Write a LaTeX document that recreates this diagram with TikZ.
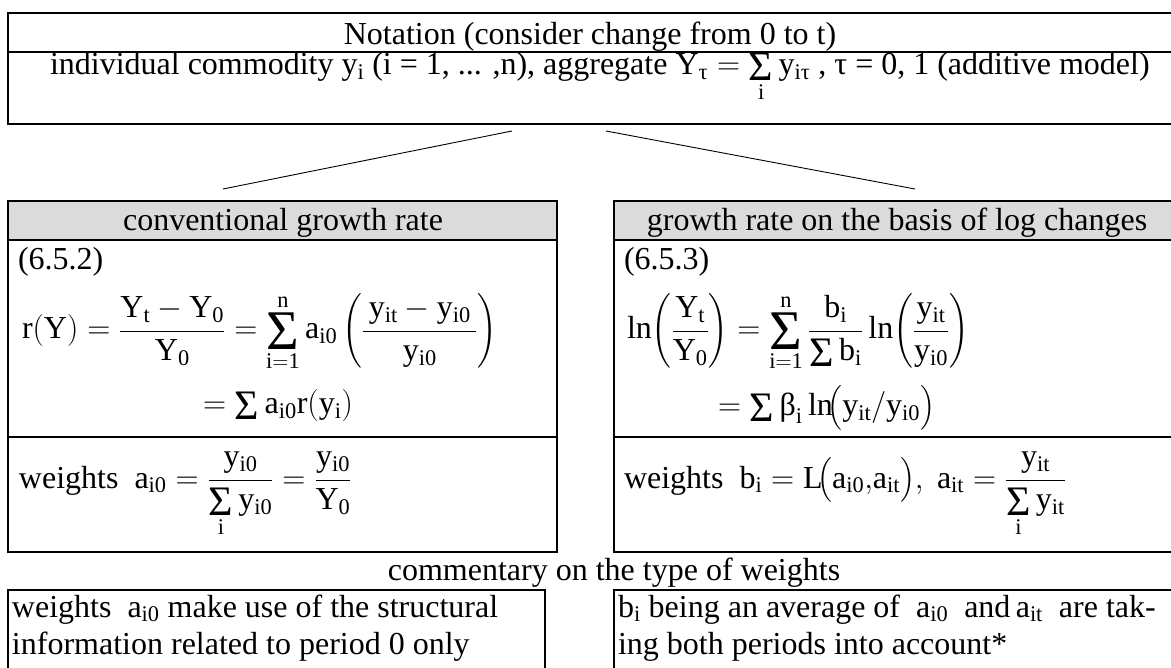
\documentclass[tikz,border=0pt]{standalone}
\usepackage{fix-cm}
\usepackage{amsmath}
\usepackage{fontspec}
\setmainfont{Liberation Serif}
\newcommand{\umr}[1]{\mathrm{#1}}
% Times-like summation signs
\newcommand{\sS}{\mathop{\vcenter{\hbox{\fontsize{42}{42}\selectfont Σ}}}}
\newcommand{\bS}{\mathop{\vcenter{\hbox{\fontsize{56}{56}\selectfont Σ}}}}
\begin{document}
\begin{tikzpicture}[x=1pt,y=-1pt,
  every node/.style={inner sep=0pt, outer sep=0pt, font=\fontsize{32}{37}\selectfont},
  frame/.style={draw=black, line width=2.2pt},
  divider/.style={draw=black, line width=2pt},
  hdrfill/.style={fill=black!14},
  conn/.style={draw=black, line width=0.9pt},
  txtl/.style={anchor=base west, align=left},
  txtc/.style={anchor=base}
]
\useasboundingbox (0,0) rectangle (1171,668);
\fill[white] (0,0) rectangle (1171,668);

% top notation box
\draw[frame] (8,13) rectangle (1185,124);
\draw[divider] (8,52) -- (1185,52);
\node[txtc] (notation) at (590,45) {Notation (consider change from 0 to t)};
\node[txtl] (indiv) at (50,75) {individual commodity y\textsubscript{i} (i = 1, ... ,n), aggregate $\umr{Y}_{\text{τ}} = \sS\limits_{\umr{i}} \umr{y}_{\umr{i}\text{τ}}$ , τ = 0, 1 (additive model)};

% connectors
\coordinate (cl1) at (512,131);
\coordinate (cl2) at (223,189);
\coordinate (cr1) at (606,131);
\coordinate (cr2) at (915,189);
\draw[conn] (cl1) -- (cl2);
\draw[conn] (cr1) -- (cr2);

% left column
\fill[hdrfill] (8,201) rectangle (557,240);
\draw[frame] (8,201) rectangle (557,552);
\draw[divider] (8,240) -- (557,240);
\draw[divider] (8,437) -- (557,437);
\node[txtc] (convhdr) at (283,231) {conventional growth rate};
\node[txtl] (eqa) at (18,270) {(6.5.2)};
\node[txtl] (fa1) at (22,339) {$\umr{r(Y)} = \dfrac{\umr{Y_t} - \umr{Y_0}}{\umr{Y_0}} = \bS\limits_{\umr{i=1}}^{\umr{n}} \umr{a_{i0}} \left( \dfrac{\,\umr{y_{it}} - \umr{y_{i0}}\,}{\umr{y_{i0}}} \right)$};
\node[txtl] (fa2) at (203,414) {$= \sS \umr{a_{i0}r(y_i)}$};
\node[txtl] (wa) at (19,488) {weights\ \ $\umr{a_{i0}} = \dfrac{\umr{y_{i0}}}{\sS\limits_{\umr{i}} \umr{y_{i0}}} = \dfrac{\umr{y_{i0}}}{\umr{Y_0}}$};

% right column
\fill[hdrfill] (614,201) rectangle (1185,240);
\draw[frame] (614,201) rectangle (1185,552);
\draw[divider] (614,240) -- (1185,240);
\draw[divider] (614,437) -- (1185,437);
\node[txtc] (loghdr) at (897,231) {growth rate on the basis of log changes};
\node[txtl] (eqb) at (624,270) {(6.5.3)};
\node[txtl] (fb1) at (627,339) {$\ln\!\left(\dfrac{\umr{Y_t}}{\umr{Y_0}}\right) = \bS\limits_{\umr{i=1}}^{\umr{n}} \dfrac{\umr{b_i}}{\sS \umr{b_i}} \ln\!\left(\dfrac{\umr{y_{it}}}{\umr{y_{i0}}}\right)$};
\node[txtl] (fb2) at (718,416) {$= \sS \text{β}_{\umr{i}} \ln\!\bigl(\umr{y_{it}}/\umr{y_{i0}}\bigr)$};
\node[txtl] (wb) at (624,488) {weights\ \ $\umr{b_i} = \umr{L}\!\bigl(\umr{a_{i0}}{,}\umr{a_{it}}\bigr),\ \umr{a_{it}} = \dfrac{\umr{y_{it}}}{\sS\limits_{\umr{i}} \umr{y_{it}}}$};

% commentary
\node[txtc] (comm) at (614,580) {commentary on the type of weights};
\draw[frame] (8,590) rectangle (545,710);
\draw[frame] (614,590) rectangle (1185,710);
\node[txtl] (ca) at (12,654) {weights\ \ $\umr{a_{i0}}$\ make use of the structural\\information related to period 0 only};
\node[txtl] (cb) at (618,654) {b\textsubscript{i} being an average of\ \ $\umr{a_{i0}}$\ \ and\,$\umr{a_{it}}$\ \ are tak-\\ing both periods into account*};
\end{tikzpicture}
\end{document}
